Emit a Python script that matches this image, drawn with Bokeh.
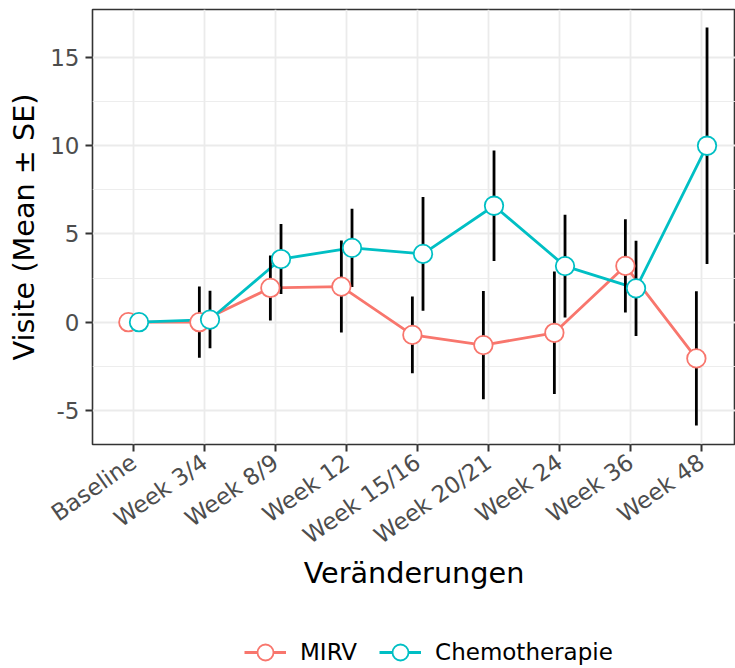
import math
from bokeh.plotting import figure
from bokeh.layouts import column
from bokeh.models import (Range1d, FixedTicker, Legend, LegendItem, ColumnDataSource)
from bokeh.transform import dodge
from bokeh.embed import file_html
from bokeh.resources import INLINE

categories = ["Baseline", "Week 3/4", "Week 8/9", "Week 12", "Week 15/16",
              "Week 20/21", "Week 24", "Week 36", "Week 48"]
mirv_mean = [0.0, 0.0, 1.94, 2.02, -0.72, -1.30, -0.60, 3.19, -2.05]
mirv_se = [0.0, 2.02, 1.84, 2.61, 2.17, 3.07, 3.47, 2.64, 3.80]
chemo_mean = [0.0, 0.15, 3.58, 4.21, 3.87, 6.60, 3.18, 1.92, 10.00]
chemo_se = [0.0, 1.63, 1.98, 2.22, 3.22, 3.13, 2.91, 2.70, 6.70]
y_ticks = [-5, 0, 5, 10, 15]
y_minor = [-2.5, 2.5, 7.5, 12.5]

series_names = ["MIRV", "Chemotherapie"]
colors = ["#F8766D", "#00BFC4"]
offsets = [-0.075, 0.075]

xs = list(range(1, len(categories) + 1))

def make_source(mean, se):
    return ColumnDataSource(dict(
        x=xs, mean=mean,
        lower=[m - s for m, s in zip(mean, se)],
        upper=[m + s for m, s in zip(mean, se)],
    ))

sources = [make_source(mirv_mean, mirv_se), make_source(chemo_mean, chemo_se)]

LINE_W = 2.8
PT_SIZE = 18.5
PT_LW = 1.8

p = figure(width=735, height=608,
           x_range=Range1d(0.42, 9.476), y_range=Range1d(-6.93, 17.72),
           output_backend="svg", toolbar_location=None,
           min_border_left=92, min_border_top=9, min_border_right=0,
           min_border_bottom=164)

p.background_fill_color = "white"
p.border_fill_color = "white"
p.outline_line_color = "#333333"
p.outline_line_width = 1.6

for src, col, off in zip(sources, colors, offsets):
    p.line(x=dodge("x", off), y="mean", source=src, line_color=col, line_width=LINE_W)
for src, off in zip(sources, offsets):
    p.segment(x0=dodge("x", off), y0="lower", x1=dodge("x", off), y1="upper",
              source=src, line_color="black", line_width=2.8)
for src, col, off in zip(sources, colors, offsets):
    p.scatter(x=dodge("x", off), y="mean", source=src, marker="circle",
              size=PT_SIZE, fill_color="white", line_color=col, line_width=PT_LW)

# axes
p.xaxis.ticker = FixedTicker(ticks=xs)
p.xaxis.major_label_overrides = {x: c for x, c in zip(xs, categories)}
p.xaxis.major_label_orientation = math.radians(35)
p.yaxis.ticker = FixedTicker(ticks=y_ticks, minor_ticks=y_minor)
p.yaxis.major_label_overrides = {t: str(t) for t in y_ticks}

for ax in (p.xaxis[0], p.yaxis[0]):
    ax.axis_line_color = None
    ax.major_tick_line_color = "#333333"
    ax.major_tick_line_width = 2
    ax.major_tick_out = 7
    ax.major_tick_in = 0
    ax.minor_tick_line_color = None
    ax.major_label_text_font = "DejaVu Sans"
    ax.major_label_text_font_size = "23px"
    ax.major_label_text_color = "#4D4D4D"
    ax.major_label_standoff = 6
    ax.axis_label_text_font = "DejaVu Sans"
    ax.axis_label_text_font_size = "28.7px"
    ax.axis_label_text_font_style = "normal"
    ax.axis_label_text_color = "black"

p.xaxis.major_label_standoff = 8
p.xaxis.axis_label_standoff = -6
p.yaxis.axis_label_standoff = 6

p.xaxis.axis_label = "Veränderungen"
p.yaxis.axis_label = "Visite (Mean ± SE)"

p.xgrid.grid_line_color = "#EBEBEB"
p.xgrid.grid_line_width = 1.8
p.ygrid.grid_line_color = "#EBEBEB"
p.ygrid.grid_line_width = 1.8
p.ygrid.minor_grid_line_color = "#EBEBEB"
p.ygrid.minor_grid_line_width = 0.9

# legend strip below the chart; its proxy renderers share the series sources
# but its ranges keep them out of view, so only the legend keys are seen
lg = figure(width=735, height=60, output_backend="svg", toolbar_location=None,
            x_range=Range1d(-20, -10), y_range=Range1d(-20, -10),
            x_axis_type=None, y_axis_type=None,
            min_border_left=92, min_border_right=0, min_border_top=0,
            min_border_bottom=0)
lg.outline_line_color = None
lg.xgrid.visible = False
lg.ygrid.visible = False
items = []
for name, col, src in zip(series_names, colors, sources):
    r_line = lg.line(x="x", y="mean", source=src, line_color=col, line_width=LINE_W)
    r_pt = lg.scatter(x="x", y="mean", source=src, marker="circle", size=PT_SIZE,
                      fill_color="white", line_color=col, line_width=PT_LW)
    items.append(LegendItem(label=name, renderers=[r_line, r_pt]))

legend = Legend(items=items, orientation="horizontal", location=(152, -4),
                glyph_width=42, glyph_height=40, label_standoff=14, spacing=22,
                padding=0, margin=0, border_line_color=None,
                background_fill_alpha=0,
                label_text_font="DejaVu Sans", label_text_font_size="23px",
                label_text_color="black")
lg.add_layout(legend)

open("out.html", "w").write(file_html(column(p, lg, spacing=0), INLINE))
